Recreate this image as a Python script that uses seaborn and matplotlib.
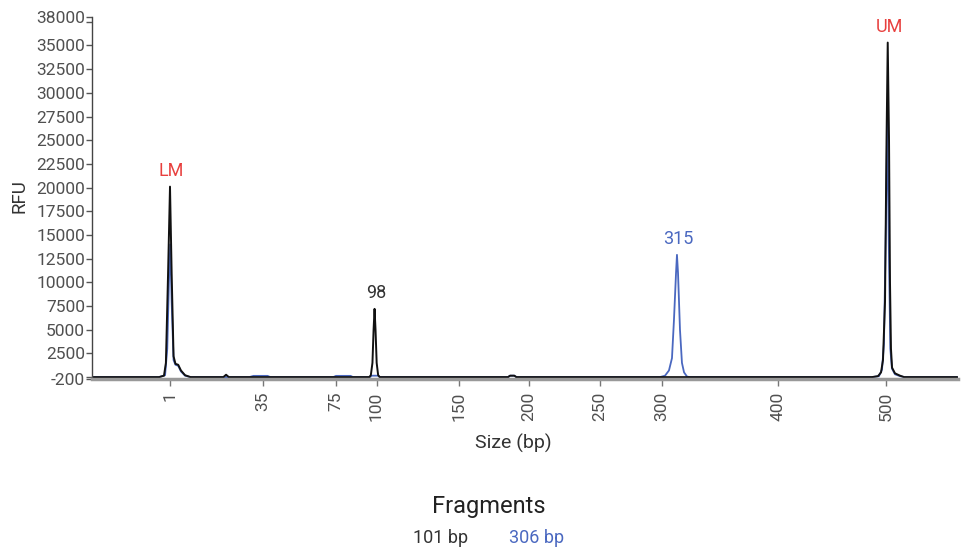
import numpy as np
import pandas as pd
import matplotlib
matplotlib.use("Agg")
import matplotlib.pyplot as plt
import seaborn as sns

# ---- data (size in bp, RFU) ----
black_bp = [-27, -3, -1.2, -0.5, 0.3, 1.0, 1.6, 2.3, 3.0, 4.0, 5.0, 6.5, 8.5,
            20.5, 21.5, 22.5, 185, 186.5, 189.5, 191,
            95.5, 96.5, 97.5, 98.2, 98.8, 99.4, 100.1, 101, 102,
            487.0, 492.6, 495.4, 497.2, 499.1, 500.5, 501.6, 502.8, 503.7, 504.6,
            505.6, 508.3, 513.0, 516.7, 566]
black_rfu = [0, 0, 150, 1500, 11000, 20100, 11000, 2200, 1400, 1300, 700, 200, 0,
             0, 250, 0, 0, 150, 150, 0,
             0, 200, 1500, 5000, 7200, 5000, 1500, 200, 0,
             0, 100, 500, 1800, 8000, 25000, 35300, 25000, 10000, 3000,
             1000, 400, 150, 0, 0]

blue_bp = [-27, -3, -0.8, 0.0, 0.6, 1.1, 1.6, 2.3, 3.0, 4.0, 5.0, 6.5, 8.5,
           30, 31.5, 37.5, 39, 73.5, 75, 84, 85.5,
           96, 97, 101, 102, 185, 186.5, 189.5, 191,
           298.3, 302.6, 306.0, 308.6, 310.3, 312.1, 312.9, 313.8, 315.5, 317.2,
           319.0, 321.6, 324.1,
           487.0, 493.5, 496.3, 498.1, 499.9, 501.2, 502.6, 504.0, 505.5, 508.3,
           513.0, 517.5, 566]
blue_rfu = [0, 0, 200, 3000, 10000, 14000, 8000, 1800, 1300, 1200, 600, 150, 0,
            0, 130, 130, 0, 0, 130, 130, 0,
            0, 150, 150, 0, 0, 150, 150, 0,
            0, 150, 700, 2000, 6000, 11000, 12900, 11000, 5000, 1500,
            500, 50, 0,
            0, 100, 800, 3500, 16000, 27800, 14000, 3000, 900, 300,
            100, 0, 0]

ladder_bp = [1, 35, 75, 100, 150, 200, 250, 300, 400, 500]
tick_labels = ["1", "35", "75", "100", "150", "200", "250", "300", "400", "500"]
peak_labels = ["LM", "98", "315", "UM"]
peak_bp = [1.0, 98.8, 312.9, 501.6]
peak_rfu = [20100, 7200, 12900, 35300]
fragments = ["101 bp", "306 bp"]

# migration-position scale (piecewise linear ladder calibration)
ladder_pos = np.array([170, 263, 336, 376.5, 459, 529, 600, 662, 778, 886], float)
lb = np.array(ladder_bp, float)
sl_l = (ladder_pos[1] - ladder_pos[0]) / (lb[1] - lb[0])
sl_r = (ladder_pos[-1] - ladder_pos[-2]) / (lb[-1] - lb[-2])


def fwd(x):
    x = np.asarray(x, float)
    y = np.interp(x, lb, ladder_pos)
    y = np.where(x < lb[0], ladder_pos[0] + (x - lb[0]) * sl_l, y)
    y = np.where(x > lb[-1], ladder_pos[-1] + (x - lb[-1]) * sl_r, y)
    return y


def inv(p):
    p = np.asarray(p, float)
    x = np.interp(p, ladder_pos, lb)
    x = np.where(p < ladder_pos[0], lb[0] + (p - ladder_pos[0]) / sl_l, x)
    x = np.where(p > ladder_pos[-1], lb[-1] + (p - ladder_pos[-1]) / sl_r, x)
    return x


sns.set_style("ticks")
plt.rcParams["font.family"] = ["Roboto", "DejaVu Sans"]

BLACK = "#111111"
BLUE = "#4a68c0"
RED = "#e8403e"
GREY = "#555555"

fig = plt.figure(figsize=(9.65, 5.48), dpi=100)
ax = fig.add_axes([92 / 965, 1 - 379 / 548, (958 - 92) / 965, (379 - 17) / 548])
ax.set_xscale("function", functions=(fwd, inv))

dfb = pd.DataFrame({"bp": blue_bp, "rfu": blue_rfu})
dfk = pd.DataFrame({"bp": black_bp, "rfu": black_rfu})
sns.lineplot(data=dfb, x="bp", y="rfu", ax=ax, color=BLUE, lw=1.3, sort=True)
sns.lineplot(data=dfk, x="bp", y="rfu", ax=ax, color=BLACK, lw=1.4, sort=True)

ax.set_xlim(inv(92), inv(958))
ax.set_ylim(-200, 38000)

yt = [-200, 0] + list(range(2500, 37501, 2500)) + [38000]
ylab = [("" if v in (0, 37500) else str(v)) for v in yt]
ax.set_yticks(yt)
ax.set_yticklabels(ylab)
ax.set_xticks(ladder_bp)
ax.set_xticklabels(tick_labels, rotation=90)
ax.tick_params(axis="y", colors=GREY, labelsize=12.5, length=4, width=1, pad=1,
               labelcolor="#505050")
ax.tick_params(axis="x", colors="#777777", labelsize=12.5, length=5, width=1, pad=4,
               labelcolor="#505050")
ax.minorticks_off()

for s in ["top", "right"]:
    ax.spines[s].set_visible(False)
ax.spines["left"].set_color("#444444")
ax.spines["left"].set_linewidth(1)
ax.spines["bottom"].set_color("#999999")
ax.spines["bottom"].set_linewidth(2.5)
ax.set_xlabel("")
ax.set_ylabel("")

label_colors = [RED, "#333333", BLUE, RED]
for lab, xb, yr, c in zip(peak_labels, peak_bp, peak_rfu, label_colors):
    ax.annotate(lab, (xb, yr), xytext=(1, 5), textcoords="offset points",
                ha="center", va="bottom", color=c, fontsize=13)

fig.text(20 / 965, 1 - 196 / 548, "RFU", rotation=90, ha="center", va="center",
         fontsize=13.5, color="#333333")
fig.text(513 / 965, 1 - 443 / 548, "Size (bp)", ha="center", va="center",
         fontsize=14, color="#333333")
fig.text(489 / 965, 1 - 506 / 548, "Fragments", ha="center", va="center",
         fontsize=17, color="#222222")
fig.text(441 / 965, 1 - 538 / 548, fragments[0], ha="center", va="center",
         fontsize=13, color="#333333")
fig.text(537 / 965, 1 - 538 / 548, fragments[1], ha="center", va="center",
         fontsize=13, color=BLUE)

fig.savefig("out.png", dpi=100)
